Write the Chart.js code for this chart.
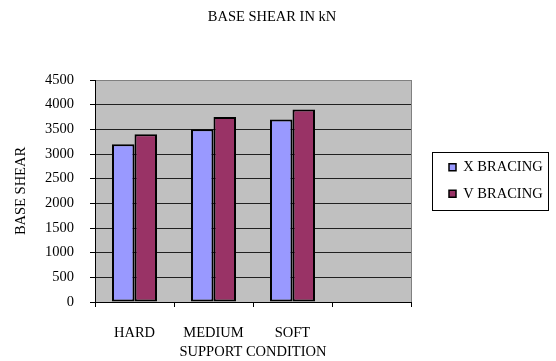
<!DOCTYPE html>
<html>
<head>
<meta charset="utf-8">
<script src="https://cdn.jsdelivr.net/npm/chart.js@4/dist/chart.umd.min.js"></script>
<style>
  html, body { margin: 0; padding: 0; background: #fff; }
  #wrap { width: 556px; height: 361px; }
</style>
</head>
<body>
<div id="wrap"><canvas id="shearChart" width="556" height="361"></canvas></div>
<script>
const categories = ['HARD', 'MEDIUM', 'SOFT', ''];
const xBracing = [3200, 3500, 3700, null];
const vBracing = [3400, 3750, 3900, null];
const seriesNames = ['X BRACING', 'V BRACING'];
const yMin = 0;
const yMax = 4500;
const yStep = 500;

Chart.defaults.font.family = "'Liberation Serif', 'Times New Roman', serif";
Chart.defaults.font.size = 14.5;
Chart.defaults.color = '#000';

// grey plot area, right border and the box round the legend
const plotBg = {
    id: 'plotBg',
    beforeDraw(chart) {
        const ctx = chart.ctx;
        const a = chart.chartArea;
        ctx.save();
        ctx.fillStyle = '#C0C0C0';
        ctx.fillRect(a.left, a.top, a.right - a.left, a.bottom - a.top);
        ctx.restore();
    },
    afterDraw(chart) {
        const ctx = chart.ctx;
        const a = chart.chartArea;
        const lg = chart.legend;
        ctx.save();
        ctx.strokeStyle = '#808080';
        ctx.lineWidth = 1;
        ctx.beginPath();
        ctx.moveTo(Math.round(a.right) + 0.5, a.top);
        ctx.lineTo(Math.round(a.right) + 0.5, a.bottom);
        ctx.stroke();
        const mid = (lg.top + lg.bottom) / 2;
        ctx.strokeStyle = '#000';
        ctx.strokeRect(Math.round(lg.left) - 4.5, Math.round(mid - 29) + 0.5, lg.right - lg.left + 9, 58);
        ctx.restore();
    }
};

const ctx = document.getElementById('shearChart').getContext('2d');
const shearChart = new Chart(ctx, {
    type: 'bar',
    plugins: [plotBg],
    data: {
        labels: categories,
        datasets: [
            {
                label: seriesNames[0],
                data: xBracing,
                backgroundColor: '#9999FF',
                borderColor: '#000',
                borderWidth: 2,
                borderSkipped: false,
                categoryPercentage: 0.57,
                barPercentage: 1.0,
            },
            {
                label: seriesNames[1],
                data: vBracing,
                backgroundColor: '#993366',
                borderColor: '#000',
                borderWidth: 2,
                borderSkipped: false,
                categoryPercentage: 0.57,
                barPercentage: 1.0,
            },
        ],
    },
    options: {
        responsive: false,
        animation: false,
        layout: {
            padding: { left: 0, right: 12, top: 0, bottom: 0 },
        },
        scales: {
            x: {
                grid: {
                    offset: true,
                    drawOnChartArea: false,
                    drawTicks: true,
                    tickLength: 5,
                    color: '#000',
                },
                border: { color: '#000', width: 1 },
                ticks: { padding: 17, maxRotation: 0 },
                title: {
                    display: true,
                    text: 'SUPPORT CONDITION',
                    padding: { top: 0, bottom: 0 },
                },
                afterFit(scale) {
                    scale.height = 59;
                },
            },
            y: {
                min: yMin,
                max: yMax,
                ticks: {
                    stepSize: yStep,
                    padding: 16,
                    callback: value => String(value),
                },
                grid: {
                    color: function(c) {
                        return c.tick && c.tick.value === yMax ? '#808080' : '#202020';
                    },
                    tickColor: '#000',
                    tickLength: 5,
                },
                border: { color: '#000', width: 1 },
                title: {
                    display: true,
                    text: 'BASE SHEAR',
                    padding: { top: 12, bottom: 0 },
                },
                afterFit(scale) {
                    scale.width = 95;
                },
            },
            // empty spacer between the plot and the legend
            gap: {
                type: 'linear',
                position: 'right',
                display: true,
                grid: { display: false, drawOnChartArea: false },
                border: { display: false },
                ticks: { display: false },
                afterFit(scale) {
                    scale.width = 26;
                },
            },
        },
        plugins: {
            title: {
                display: true,
                text: 'BASE SHEAR IN kN',
                font: { weight: 'normal', size: 14.5 },
                color: '#000',
                padding: { top: 8, bottom: 54.6 },
            },
            legend: {
                position: 'right',
                maxWidth: 107,
                labels: {
                    boxWidth: 7,
                    boxHeight: 7,
                    padding: 12,
                    color: '#000',
                    generateLabels: function(chart) {
                        const items = Chart.defaults.plugins.legend.labels.generateLabels(chart);
                        items.forEach(it => { it.lineWidth = 1.5; });
                        return items;
                    },
                },
            },
            tooltip: { enabled: false },
        },
    },
});
</script>
</body>
</html>
